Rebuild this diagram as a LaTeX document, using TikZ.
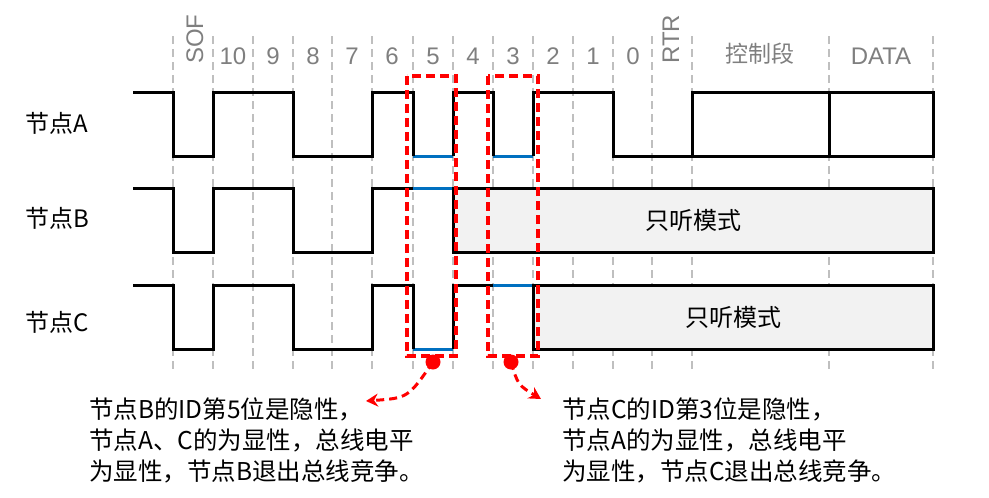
\documentclass[tikz,border=0pt]{standalone}
\usepackage{fontspec}
\setmainfont{Liberation Sans}
\newfontfamily\cjk{Noto Sans CJK SC}
\usepackage{tikz}
\usetikzlibrary{arrows.meta}
\definecolor{gridgray}{RGB}{191,191,191}
\definecolor{txtgray}{RGB}{127,127,127}
\definecolor{domblue}{RGB}{0,112,192}
\definecolor{boxfill}{RGB}{242,242,242}
\tikzset{
  wave/.style={line width=3pt},
  domline/.style={line width=3pt, domblue},
  bitline/.style={gridgray, line width=2pt, dash pattern=on 8pt off 5pt},
  hdr/.style={txtgray, font=\fontsize{24}{28}\selectfont, anchor=base, inner sep=0pt},
  nodelbl/.style={font=\cjk\fontsize{24}{28}\selectfont, anchor=west, inner sep=0pt},
  listen/.style={draw, line width=3pt, fill=boxfill, minimum height=64pt, font=\cjk\fontsize{24}{28}\selectfont},
  cutbox/.style={red, line width=3.5pt, dash pattern=on 9pt off 5pt},
  hitdot/.style={circle, fill=red, inner sep=0pt, minimum size=15pt},
  hitarrow/.style={red, line width=3pt, dash pattern=on 8pt off 5pt, -{Stealth[length=12pt,width=13pt]}},
  note/.style={font=\cjk\fontsize{24.5}{31}\selectfont, align=left, anchor=north west, inner sep=0pt}
}
\begin{document}
\begin{tikzpicture}[x=1pt,y=-1pt]
\useasboundingbox (0,0) rectangle (989,498);

\foreach \gx in {173,213,253,293,332,372,413,453,493,533,573,613,652,692,829,933}
  \draw[bitline] (\gx,36) -- (\gx,369);

\node[hdr, rotate=90, anchor=base west] (sof) at (203,64) {SOF};
\foreach \lx/\lt [count=\i] in {233/10,273/9,313/8,352/7,392/6,433/5,473/4,513/3,553/2,593/1,633/0}
  \node[hdr] (bit\i) at (\lx,64) {\lt};
\node[hdr, rotate=90, anchor=base west] (rtr) at (679,64) {RTR};
\node[hdr, font=\cjk\fontsize{23}{26}\selectfont] (ctrl) at (760,62) {控制段};
\node[hdr] (data) at (881,64) {DATA};

\node[nodelbl] (nameA) at (25,123) {节点A};
\node[nodelbl] (nameB) at (25,218) {节点B};
\node[nodelbl] (nameC) at (25,322) {节点C};

\draw[domline] (413,156) -- (453,156) (493,156) -- (533,156);
\draw[wave] (133,92) -| (173,156) -| (213,92) -| (293,156) -| (372,92) -| (413,156);
\draw[wave] (453,156) |- (493,92) -- (493,156);
\draw[wave] (533,156) |- (613,92) -- (613,156) -| (692,92);
\draw[wave] (692,92) rectangle (933,156) (829,92) -- (829,156);

\draw[domline] (413,188) -- (453,188);
\draw[wave] (133,188) -| (173,252) -| (213,188) -| (293,252) -| (372,188) -- (413,188);
\node[listen, minimum width=480pt] (listenB) at (693,220) {只听模式};

\draw[domline] (413,349) -- (453,349) (493,285) -- (533,285);
\draw[wave] (133,285) -| (173,349) -| (213,285) -| (293,349) -| (372,285) -| (413,349);
\draw[wave] (453,349) |- (493,285);
\node[listen, minimum width=400pt] (listenC) at (733,317) {只听模式};

\draw[cutbox] (407,76) rectangle (456,356);
\draw[cutbox] (488,76) rectangle (538,356);

\node[note] (noteB) at (89,398) {节点B的ID第5位是隐性，\\节点A、C的为显性，总线电平\\为显性，节点B退出总线竞争。};
\node[note] (noteC) at (562,398) {节点C的ID第3位是隐性，\\节点A的为显性，总线电平\\为显性，节点C退出总线竞争。};

\coordinate (tipB) at (366,401);
\coordinate (tipC) at (541,399);
\draw[hitarrow] (433,362) .. controls (408,398) .. (tipB);
\draw[hitarrow] (511,362) .. controls (518,385) .. (tipC);
\node[hitdot] (hitB) at (433,362) {};
\node[hitdot] (hitC) at (511,362) {};
\end{tikzpicture}
\end{document}
